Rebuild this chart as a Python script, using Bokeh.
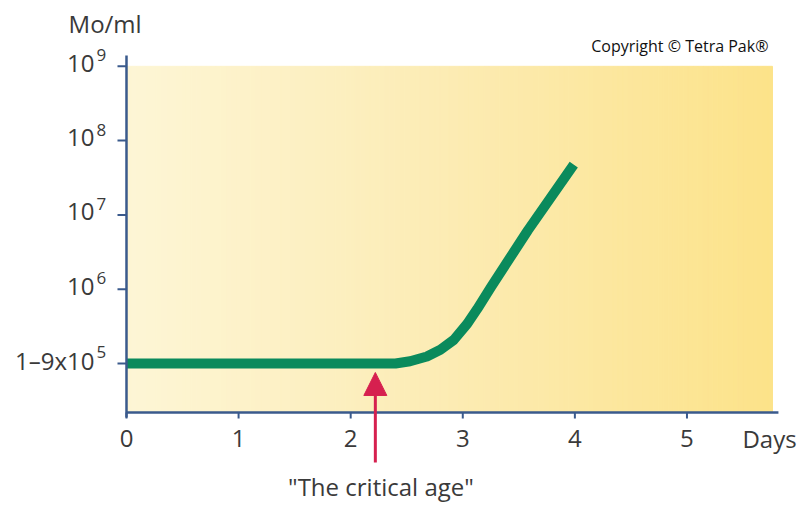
import numpy as np
from bokeh.plotting import figure
from bokeh.models import Range1d, Arrow, NormalHead
from bokeh.core.properties import value
from bokeh.embed import file_html
from bokeh.resources import INLINE

# ---- data ----
days = [0, 2.40, 2.53, 2.68, 2.80, 2.92, 3.04, 3.13, 3.25, 3.58, 3.99]
counts = [1e5, 1e5, 1.07e5, 1.24e5, 1.53e5, 2.08e5, 3.42e5, 5.45e5, 1.06e6, 6.17e6, 4.76e7]
x_ticks = [0, 1, 2, 3, 4, 5]
x_tick_labels = ["0", "1", "2", "3", "4", "5"]
y_ticks = [1e5, 1e6, 1e7, 1e8, 1e9]
y_tick_bases = ["1\u20139x10", "10", "10", "10", "10"]
y_tick_exps = ["5", "6", "7", "8", "9"]
critical_day = 2.22
critical_text = '"The critical age"'
y_title = "Mo/ml"
x_title = "Days"
copyright_text = "Copyright \u00a9 Tetra Pak\u00ae"

# ---- style ----
FONT = value("Open Sans")
TXT = "#3a3a3a"
AXIS = "#3a5a8c"
GREEN = "#0a8a5c"
RED = "#d6204f"

W, H = 798, 506
X_MIN, X_MAX = -1.124, 5.995            # whole canvas (days)
LOG_MIN, LOG_MAX = 3.075, 9.886         # whole canvas (log10 units)
AX_BOTTOM = 10 ** 4.34                  # x axis position
AX_TOP = 10 ** 9.145                    # top end of y axis line
AX_RIGHT = 5.816                        # right end of x axis line
BG_RIGHT = 5.763                        # right end of coloured panel
BG_TOP = 1e9

p = figure(width=W, height=H, output_backend="svg", toolbar_location=None,
           x_range=Range1d(X_MIN, X_MAX), y_range=Range1d(10 ** LOG_MIN, 10 ** LOG_MAX),
           y_axis_type="log", x_axis_location=None, y_axis_location=None,
           min_border=0)
p.outline_line_color = None
p.background_fill_color = "white"
p.border_fill_color = "white"
p.xgrid.visible = False
p.ygrid.visible = False

# ---- background gradient (decorative) ----
n = 130
edges = np.linspace(0, BG_RIGHT, n + 1)
stops_t = [0.0, 0.5, 1.0]
stops_c = np.array([[254, 246, 214], [252, 236, 180], [253, 227, 138]], dtype=float)
mids = (np.arange(n) + 0.5) / n
cols = []
for t in mids:
    r = np.interp(t, stops_t, stops_c[:, 0])
    g = np.interp(t, stops_t, stops_c[:, 1])
    b = np.interp(t, stops_t, stops_c[:, 2])
    cols.append("#%02x%02x%02x" % (int(r), int(g), int(b)))
p.quad(left=edges[:-1], right=edges[1:], bottom=AX_BOTTOM, top=BG_TOP,
       fill_color=cols, line_color=cols, line_width=1)

# ---- curve ----
p.line(days, counts, line_color=GREEN, line_width=10,
       line_join="round", line_cap="butt")

# ---- axes (drawn through the plot scales) ----
px_day = 1 / 112.1           # one pixel in days
px_dec = 1 / 74.3            # one pixel in decades
y_tick_len = 9 * px_day
x_tick_bottom = 10 ** (np.log10(AX_BOTTOM) - 6 * px_dec)
y_axis_low = 10 ** (np.log10(AX_BOTTOM) - 5 * px_dec)

# y axis
p.segment(x0=[0], y0=[y_axis_low], x1=[0], y1=[AX_TOP], line_color=AXIS, line_width=2.5)
p.segment(x0=[-y_tick_len] * len(y_ticks), y0=y_ticks, x1=[0] * len(y_ticks), y1=y_ticks,
          line_color=AXIS, line_width=2)
# x axis
p.segment(x0=[0], y0=[AX_BOTTOM], x1=[AX_RIGHT], y1=[AX_BOTTOM], line_color=AXIS, line_width=2.5)
p.segment(x0=x_ticks, y0=[x_tick_bottom] * len(x_ticks), x1=x_ticks, y1=[AX_BOTTOM] * len(x_ticks),
          line_color=AXIS, line_width=2)

# tick labels
p.text(x=[0] * len(y_ticks), y=y_ticks, text=y_tick_bases, x_offset=-32, y_offset=-3,
       text_font=FONT, text_font_size="24px", text_color=TXT,
       text_align="right", text_baseline="middle")
p.text(x=[0] * len(y_ticks), y=y_ticks, text=y_tick_exps, x_offset=-30, y_offset=-11,
       text_font=FONT, text_font_size="17px", text_color=TXT,
       text_align="left", text_baseline="middle")
p.text(x=x_ticks, y=[AX_BOTTOM] * len(x_ticks), text=x_tick_labels, y_offset=26,
       text_font=FONT, text_font_size="24px", text_color=TXT,
       text_align="center", text_baseline="middle")

# ---- titles / notes ----
p.text(x=[5.495], y=[AX_BOTTOM], text=[x_title], y_offset=26,
       text_font=FONT, text_font_size="24px", text_color=TXT,
       text_align="left", text_baseline="middle")
p.text(x=[-0.517], y=[10 ** 9.575], text=[y_title],
       text_font=FONT, text_font_size="24px", text_color=TXT,
       text_align="left", text_baseline="middle")
p.text(x=[5.727], y=[10 ** 9.272], text=[copyright_text],
       text_font=FONT, text_font_size="16px", text_color="#111111",
       text_align="right", text_baseline="middle")
p.text(x=[2.27], y=[10 ** 3.345], text=[critical_text],
       text_font=FONT, text_font_size="24px", text_color=TXT,
       text_align="center", text_baseline="middle")

# ---- arrow ----
p.add_layout(Arrow(end=NormalHead(size=23, fill_color=RED, line_color=RED),
                   x_start=critical_day, y_start=10 ** 3.668,
                   x_end=critical_day, y_end=10 ** 4.879,
                   line_color=RED, line_width=3))

open("out.html", "w").write(file_html(p, INLINE))
